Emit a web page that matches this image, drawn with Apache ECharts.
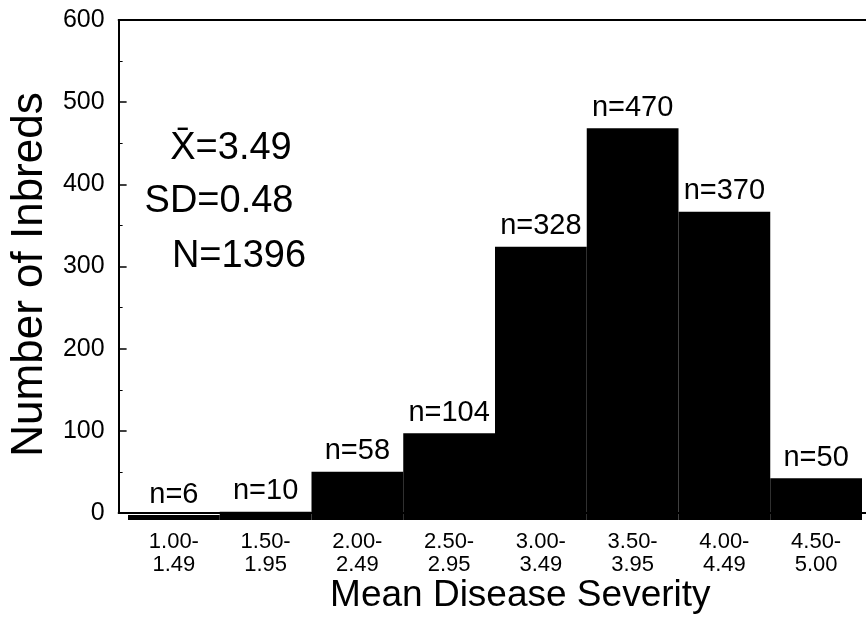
<!DOCTYPE html>
<html>
<head>
<meta charset="utf-8">
<script src="https://cdn.jsdelivr.net/npm/echarts@6/dist/echarts.min.js"></script>
<style>
  html, body { margin: 0; padding: 0; background: #fff; }
  #chart { width: 866px; height: 619px; }
</style>
</head>
<body>
<div id="chart"></div>
<script>
// severity bins and inbred counts per bin
const bins = ['1.00-\n1.49', '1.50-\n1.95', '2.00-\n2.49', '2.50-\n2.95', '3.00-\n3.49', '3.50-\n3.95', '4.00-\n4.49', '4.50-\n5.00']
const counts = [6, 10, 58, 104, 328, 470, 370, 50]
const yTicks = { min: 0, max: 600, step: 100 }
const stats = ['X\u0304=3.49', 'SD=0.48', 'N=1396']

const font = "'Liberation Sans', Arial, sans-serif"
const chart = echarts.init(document.getElementById('chart'))

chart.setOption({
    backgroundColor: '#fff',
    animation: false,
    grid: [
        { left: 128, right: 4, top: 20, bottom: 99 },
        { left: 115, right: 0, top: 20, bottom: 99 },
    ],
    xAxis: [
        {
            type: 'category', gridIndex: 0, data: bins,
            axisLine: { show: false }, axisTick: { show: false },
            axisLabel: { color: '#000', fontFamily: font, fontSize: 22, lineHeight: 23, margin: 10 },
        },
        {
            type: 'value', gridIndex: 1, position: 'bottom', min: 0, max: 1,
            axisLine: { show: true, lineStyle: { color: '#000', width: 2 } },
            axisTick: { show: false }, axisLabel: { show: false }, splitLine: { show: false },
            name: 'Mean Disease Severity', nameLocation: 'middle', nameGap: 64,
            nameTextStyle: { color: '#000', fontFamily: font, fontSize: 37, padding: [0, 0, 0, 56] },
        },
        {
            type: 'value', gridIndex: 1, position: 'top', min: 0, max: 1,
            axisLine: { show: true, lineStyle: { color: '#000', width: 2 } },
            axisTick: { show: false }, axisLabel: { show: false }, splitLine: { show: false },
        },
    ],
    yAxis: [
        { type: 'value', gridIndex: 0, min: yTicks.min, max: yTicks.max, show: false },
        {
            type: 'value', gridIndex: 1, min: yTicks.min, max: yTicks.max, interval: yTicks.step,
            axisLine: { show: true, lineStyle: { color: '#000', width: 2 } },
            axisTick: { show: true, inside: true, length: 8, lineStyle: { color: '#000', width: 1.5 } },
            minorTick: { show: true, splitNumber: 2, length: 4, lineStyle: { color: '#000', width: 1 } },
            splitLine: { show: false },
            axisLabel: { color: '#000', fontFamily: font, fontSize: 25, margin: 14 },
            name: 'Number of Inbreds', nameLocation: 'middle', nameGap: 62,
            nameTextStyle: { color: '#000', fontFamily: font, fontSize: 44, padding: [0, 16, 0, 0] },
        },
    ],
    series: [{
        type: 'bar', xAxisIndex: 0, yAxisIndex: 0,
        data: counts,
        barCategoryGap: '0%',
        itemStyle: { color: '#000' },
        label: {
            show: true, position: 'top', distance: 6,
            formatter: 'n={c}', color: '#000', fontFamily: font, fontSize: 29,
        },
    }],
    graphic: stats.map((t, i) => ({
        type: 'text',
        x: [231, 219, 239][i],
        y: [149, 202, 257][i],
        style: { text: t, fill: '#000', font: '38px ' + font, align: 'center', verticalAlign: 'middle' },
    })),
})
</script>
</body>
</html>
